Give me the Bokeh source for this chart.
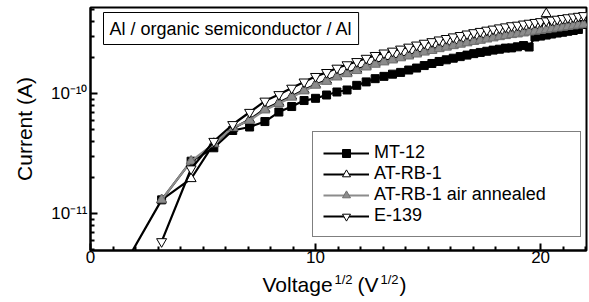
from bokeh.plotting import figure
from bokeh.layouts import column
from bokeh.models import (Range1d, FixedTicker, CustomJSTickFormatter, Label,
                          Legend, LegendItem)
from bokeh.embed import file_html
from bokeh.resources import INLINE

# ---- data ----
sqrt_v = [3.16, 4.47, 5.48, 6.32, 7.07, 7.75, 8.37, 8.94, 9.49, 10.00, 10.49, 10.95,
          11.40, 11.83, 12.25, 12.65, 13.04, 13.42, 13.78, 14.14, 14.49, 14.83, 15.17,
          15.49, 15.81, 16.12, 16.43, 16.73, 17.03, 17.32, 17.61, 17.89, 18.17, 18.44,
          18.71, 18.97, 19.24, 19.49, 19.75, 20.00, 20.25, 20.49, 20.74, 20.98, 21.21,
          21.45, 21.68, 21.91]
mt12_x = [0.0] + sqrt_v
mt12 = [1.2e-12, 1.30e-11, 2.73e-11, 3.53e-11, 4.92e-11, 5.26e-11, 5.84e-11, 7.01e-11,
        7.79e-11, 8.74e-11, 9.12e-11, 9.72e-11, 1.03e-10, 1.07e-10, 1.17e-10, 1.25e-10,
        1.33e-10, 1.39e-10, 1.45e-10, 1.50e-10, 1.57e-10, 1.63e-10, 1.71e-10, 1.78e-10,
        1.85e-10, 1.91e-10, 1.97e-10, 2.03e-10, 2.09e-10, 2.15e-10, 2.20e-10, 2.25e-10,
        2.30e-10, 2.34e-10, 2.39e-10, 2.40e-10, 2.45e-10, 2.51e-10, 2.44e-10, 2.96e-10,
        3.01e-10, 3.07e-10, 3.13e-10, 3.19e-10, 3.24e-10, 3.30e-10, 3.35e-10, 3.42e-10,
        3.76e-10]
atrb1 = [1.30e-11, 1.95e-11, 3.83e-11, 5.11e-11, 6.07e-11, 7.43e-11, 8.42e-11, 9.50e-11,
         1.07e-10, 1.19e-10, 1.29e-10, 1.39e-10, 1.49e-10, 1.59e-10, 1.69e-10, 1.79e-10,
         1.87e-10, 1.94e-10, 2.02e-10, 2.09e-10, 2.18e-10, 2.25e-10, 2.33e-10, 2.41e-10,
         2.47e-10, 2.55e-10, 2.62e-10, 2.69e-10, 2.77e-10, 2.83e-10, 2.90e-10, 2.96e-10,
         3.03e-10, 3.09e-10, 3.16e-10, 3.19e-10, 3.26e-10, 3.31e-10, 3.36e-10, 3.42e-10,
         4.62e-10, 3.52e-10, 3.58e-10, 3.63e-10, 3.68e-10, 3.73e-10, 3.78e-10, 3.83e-10]
atrb1_air = [1.30e-11, 2.73e-11, 3.81e-11, 5.21e-11, 5.96e-11, 7.28e-11, 8.25e-11, 9.31e-11,
             1.05e-10, 1.17e-10, 1.26e-10, 1.37e-10, 1.46e-10, 1.55e-10, 1.66e-10, 1.75e-10,
             1.83e-10, 1.90e-10, 1.98e-10, 2.05e-10, 2.13e-10, 2.21e-10, 2.28e-10, 2.36e-10,
             2.43e-10, 2.50e-10, 2.57e-10, 2.64e-10, 2.71e-10, 2.77e-10, 2.84e-10, 2.90e-10,
             2.97e-10, 3.03e-10, 3.09e-10, 3.13e-10, 3.19e-10, 3.25e-10, 3.30e-10, 3.35e-10,
             3.40e-10, 3.45e-10, 3.51e-10, 3.56e-10, 3.61e-10, 3.66e-10, 3.71e-10, 3.76e-10]
e139 = [5.84e-12, 2.36e-11, 4.00e-11, 5.52e-11, 6.98e-11, 8.66e-11, 9.81e-11, 1.11e-10,
        1.25e-10, 1.39e-10, 1.50e-10, 1.63e-10, 1.74e-10, 1.85e-10, 1.97e-10, 2.08e-10,
        2.18e-10, 2.26e-10, 2.35e-10, 2.44e-10, 2.54e-10, 2.63e-10, 2.71e-10, 2.80e-10,
        2.88e-10, 2.97e-10, 3.05e-10, 3.14e-10, 3.22e-10, 3.30e-10, 3.38e-10, 3.45e-10,
        3.53e-10, 3.60e-10, 3.68e-10, 3.72e-10, 3.80e-10, 3.86e-10, 3.92e-10, 3.98e-10,
        4.04e-10, 4.10e-10, 4.17e-10, 4.23e-10, 4.29e-10, 4.35e-10, 4.41e-10, 4.47e-10]

series_names = ["MT-12", "AT-RB-1", "AT-RB-1 air annealed", "E-139"]
x_major = [0, 10, 20]
x_minor = [1, 2, 3, 4, 5, 6, 7, 8, 9, 11, 12, 13, 14, 15, 16, 17, 18, 19, 21, 22]
y_major = [1e-11, 1e-10]
y_minor = [5e-12, 6e-12, 7e-12, 8e-12, 9e-12, 2e-11, 3e-11, 4e-11, 5e-11, 6e-11, 7e-11,
           8e-11, 9e-11, 2e-10, 3e-10, 4e-10, 5e-10]
title_text = "Al / organic semiconductor / Al"
x_label_parts = ["Voltage", "1/2", "(V", "1/2", ")"]

FONT = "Liberation Sans"

p = figure(width=589, height=270, y_axis_type="log", title=None,
           x_range=Range1d(0, 22.04), y_range=Range1d(4.92e-12, 5.21e-10),
           output_backend="svg", toolbar_location=None,
           min_border_left=90, min_border_right=3, min_border_top=7, min_border_bottom=20)
p.grid.visible = False
p.background_fill_color = "white"
p.border_fill_color = "white"
p.outline_line_color = "black"
p.outline_line_width = 2

for ax in (p.xaxis[0], p.yaxis[0]):
    ax.axis_line_width = 2
    ax.axis_line_color = "black"
    ax.major_tick_line_color = "black"
    ax.minor_tick_line_color = "black"
    ax.major_tick_line_width = 2
    ax.minor_tick_line_width = 2
    ax.major_tick_in = 7
    ax.major_tick_out = 0
    ax.minor_tick_in = 4
    ax.minor_tick_out = 0
    ax.major_label_text_color = "black"
    ax.major_label_text_font = FONT

p.xaxis.ticker = FixedTicker(ticks=x_major, minor_ticks=x_minor)
p.yaxis.ticker = FixedTicker(ticks=y_major, minor_ticks=y_minor)
p.xaxis.major_label_text_font_size = "17px"
p.xaxis.major_label_standoff = 0
p.yaxis.major_label_text_font_size = "17px"
p.yaxis.major_label_standoff = 3
p.yaxis.formatter = CustomJSTickFormatter(code="""
const sup = {"-": "\u207b", "0": "\u2070", "1": "\u00b9", "2": "\u00b2", "3": "\u00b3",
             "4": "\u2074", "5": "\u2075", "6": "\u2076", "7": "\u2077", "8": "\u2078", "9": "\u2079"};
const e = String(Math.round(Math.log10(tick)));
let s = "";
for (const c of e) { s += sup[c]; }
return "10" + s;
""")
p.yaxis.axis_label = "Current (A)"
p.yaxis.axis_label_text_font = FONT
p.yaxis.axis_label_text_font_size = "21px"
p.yaxis.axis_label_text_font_style = "normal"
p.yaxis.axis_label_text_color = "black"
p.yaxis.axis_label_standoff = 12

# ---- series ----
l1 = p.line(mt12_x, mt12, line_color="black", line_width=2.2)
s1 = p.scatter(mt12_x, mt12, marker="square", size=8, fill_color="black", line_color="black")
l2 = p.line(sqrt_v, atrb1, line_color="black", line_width=2.2)
s2 = p.scatter(sqrt_v, atrb1, marker="triangle", size=10, fill_color="white", line_color="black", line_width=1)
l3 = p.line(sqrt_v, atrb1_air, line_color="#8c8c8c", line_width=2.2)
s3 = p.scatter(sqrt_v, atrb1_air, marker="triangle", size=10, fill_color="#8c8c8c", line_color="#6e6e6e", line_width=1)
l4 = p.line(sqrt_v, e139, line_color="black", line_width=2.2)
s4 = p.scatter(sqrt_v, e139, marker="inverted_triangle", size=10, fill_color="white", line_color="black", line_width=1)

legend = Legend(items=[LegendItem(label=series_names[0], renderers=[l1, s1]),
                       LegendItem(label=series_names[1], renderers=[l2, s2]),
                       LegendItem(label=series_names[2], renderers=[l3, s3]),
                       LegendItem(label=series_names[3], renderers=[l4, s4])],
                location=(222, 13), margin=0, padding=10, spacing=0,
                glyph_width=46, glyph_height=20, label_height=20, label_standoff=5,
                label_width=196, label_text_font=FONT, label_text_font_size="18px",
                label_text_color="black", border_line_color="black", border_line_width=1,
                background_fill_color="white", background_fill_alpha=1.0)
p.add_layout(legend)

p.add_layout(Label(x=13, y=238, x_units="screen", y_units="screen", text=title_text,
                   text_font=FONT, text_font_size="18px", text_color="black",
                   text_align="left", text_baseline="top", padding=6,
                   border_line_color="black", border_line_width=1,
                   background_fill_color="white"))

# ---- x-axis title strip (with superscripts); its frame lines up with p's frame ----
p2 = figure(width=589, height=32, title=None,
            x_range=Range1d(90, 586), y_range=Range1d(0, 32),
            x_axis_location=None, y_axis_location=None, toolbar_location=None,
            output_backend="svg", min_border_left=90, min_border_right=3,
            min_border_top=0, min_border_bottom=0)
p2.grid.visible = False
p2.outline_line_color = None
p2.border_fill_color = "white"
big = dict(text_font=FONT, text_font_size="21px", text_color="black",
           text_align="left", text_baseline="alphabetic")
small = dict(text_font=FONT, text_font_size="13px", text_color="black",
             text_align="left", text_baseline="top")
p2.add_layout(Label(x=262, y=18, text=x_label_parts[0], **big))
p2.add_layout(Label(x=334, y=31, text=x_label_parts[1], **small))
p2.add_layout(Label(x=357, y=18, text=x_label_parts[2], **big))
p2.add_layout(Label(x=380, y=31, text=x_label_parts[3], **small))
p2.add_layout(Label(x=399, y=18, text=x_label_parts[4], **big))

layout = column(p, p2, spacing=0)
open("out.html", "w").write(file_html(layout, INLINE))
